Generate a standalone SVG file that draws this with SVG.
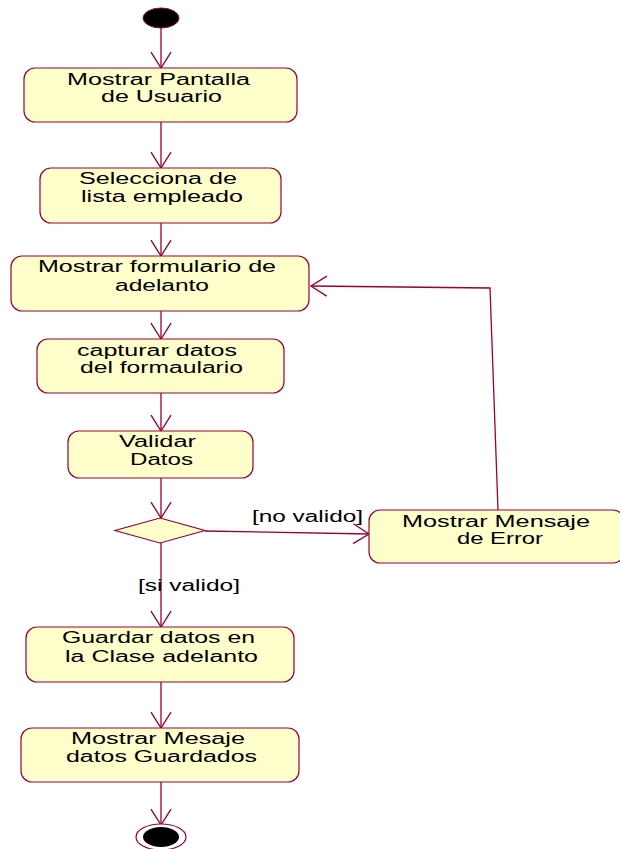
<svg xmlns="http://www.w3.org/2000/svg" width="620" height="849" viewBox="0 0 620 849">
  <style>
    .act { fill: #FFFFCC; stroke: #990033; stroke-width: 1.2; }
    .lbl { font-family: "Liberation Sans", Arial, sans-serif; font-size: 16px; fill: #000; text-anchor: middle; }
    .edge { fill: none; stroke: #990033; stroke-width: 1.3; }
  </style>
  <defs>
    <marker id="open" markerUnits="userSpaceOnUse" markerWidth="20" markerHeight="24" viewBox="-17 -11 19 22" refX="0" refY="0" orient="auto">
      <path d="M -15 -9.5 L 0 0 L -15 9.5" fill="none" stroke="#990033" stroke-width="1.3"/>
    </marker>
  </defs>

  <rect width="620" height="849" fill="#fff"/>

  <g id="connectors">
    <line class="edge" x1="161" y1="28" x2="161" y2="68" marker-end="url(#open)"/>
    <line class="edge" x1="161" y1="122" x2="161" y2="168" marker-end="url(#open)"/>
    <line class="edge" x1="161" y1="223" x2="161" y2="256" marker-end="url(#open)"/>
    <line class="edge" x1="161" y1="311" x2="161" y2="339" marker-end="url(#open)"/>
    <line class="edge" x1="161" y1="393" x2="161" y2="431" marker-end="url(#open)"/>
    <line class="edge" x1="161" y1="478" x2="161" y2="518" marker-end="url(#open)"/>
    <line class="edge" x1="205" y1="531" x2="369" y2="534" marker-end="url(#open)"/>
    <line class="edge" x1="161" y1="543" x2="161" y2="627" marker-end="url(#open)"/>
    <line class="edge" x1="161" y1="682" x2="161" y2="728" marker-end="url(#open)"/>
    <line class="edge" x1="161" y1="782" x2="161" y2="825" marker-end="url(#open)"/>
    <polyline class="edge" points="498,510 490,288 311,286" marker-end="url(#open)"/>
    <text class="lbl" x="307.5" y="522" textLength="111" lengthAdjust="spacingAndGlyphs">[no valido]</text>
    <text class="lbl" x="189" y="591" textLength="102" lengthAdjust="spacingAndGlyphs">[si valido]</text>
  </g>

  <g id="start">
    <ellipse cx="161" cy="18" rx="18" ry="10" fill="#000" stroke="#990033" stroke-width="1"/>
  </g>

  <g id="mostrar-pantalla">
    <rect class="act" x="24" y="68" width="273" height="54" rx="11"/>
    <text class="lbl" x="158.5" y="85" textLength="183" lengthAdjust="spacingAndGlyphs">Mostrar Pantalla</text>
    <text class="lbl" x="161.5" y="102" textLength="121" lengthAdjust="spacingAndGlyphs">de Usuario</text>
  </g>

  <g id="selecciona">
    <rect class="act" x="40" y="168" width="241" height="55" rx="11"/>
    <text class="lbl" x="158" y="184" textLength="158" lengthAdjust="spacingAndGlyphs">Selecciona de</text>
    <text class="lbl" x="162" y="202" textLength="162" lengthAdjust="spacingAndGlyphs">lista empleado</text>
  </g>

  <g id="formulario">
    <rect class="act" x="11" y="256" width="298" height="55" rx="11"/>
    <text class="lbl" x="157" y="272" textLength="238" lengthAdjust="spacingAndGlyphs">Mostrar formulario de</text>
    <text class="lbl" x="162" y="291" textLength="94" lengthAdjust="spacingAndGlyphs">adelanto</text>
  </g>

  <g id="capturar">
    <rect class="act" x="37" y="339" width="247" height="54" rx="11"/>
    <text class="lbl" x="157" y="356" textLength="160" lengthAdjust="spacingAndGlyphs">capturar datos</text>
    <text class="lbl" x="161.5" y="373" textLength="163" lengthAdjust="spacingAndGlyphs">del formaulario</text>
  </g>

  <g id="validar">
    <rect class="act" x="68" y="431" width="185" height="47" rx="11"/>
    <text class="lbl" x="157.5" y="447" textLength="77" lengthAdjust="spacingAndGlyphs">Validar</text>
    <text class="lbl" x="161.5" y="465" textLength="63" lengthAdjust="spacingAndGlyphs">Datos</text>
  </g>

  <g id="decision">
    <polygon points="160,518 205,530.5 160,543 115,530.5" fill="#FFFFCC" stroke="#990033" stroke-width="1.2"/>
  </g>

  <g id="error">
    <rect class="act" x="369" y="510" width="255" height="53" rx="11"/>
    <text class="lbl" x="496" y="527" textLength="188" lengthAdjust="spacingAndGlyphs">Mostrar Mensaje</text>
    <text class="lbl" x="500" y="544" textLength="86" lengthAdjust="spacingAndGlyphs">de Error</text>
  </g>

  <g id="guardar">
    <rect class="act" x="26" y="627" width="268" height="55" rx="11"/>
    <text class="lbl" x="158.5" y="643" textLength="193" lengthAdjust="spacingAndGlyphs">Guardar datos en</text>
    <text class="lbl" x="161.5" y="662" textLength="193" lengthAdjust="spacingAndGlyphs">la Clase adelanto</text>
  </g>

  <g id="mostrar-guardados">
    <rect class="act" x="21" y="728" width="278" height="54" rx="11"/>
    <text class="lbl" x="158" y="744" textLength="174" lengthAdjust="spacingAndGlyphs">Mostrar Mesaje</text>
    <text class="lbl" x="161.5" y="762" textLength="191" lengthAdjust="spacingAndGlyphs">datos Guardados</text>
  </g>

  <g id="end">
    <ellipse cx="161" cy="837" rx="25" ry="13" fill="#fff" stroke="#990033" stroke-width="1.2"/>
    <ellipse cx="161" cy="837" rx="18" ry="10" fill="#000"/>
  </g>
</svg>
